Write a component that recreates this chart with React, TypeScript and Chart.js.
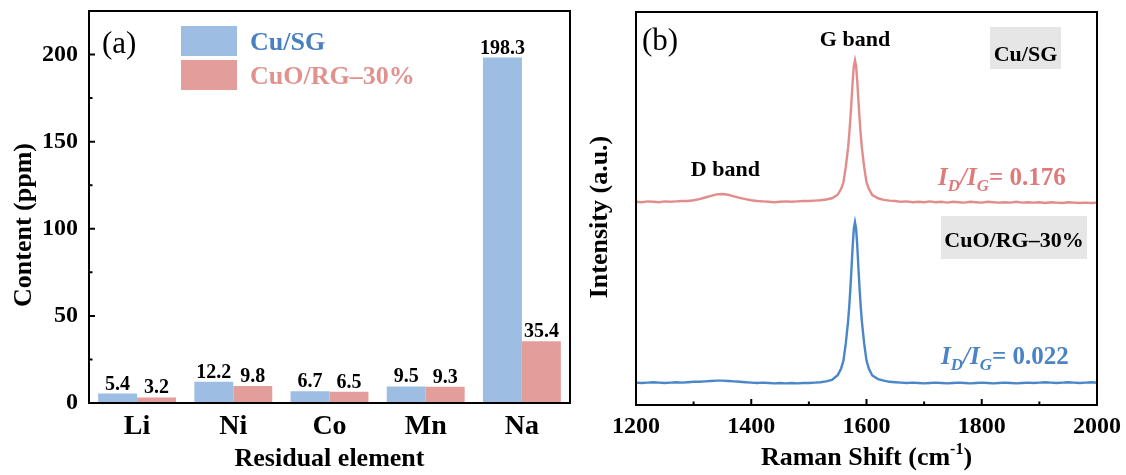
import React, { useEffect, useRef } from "react";
import { Chart, registerables } from "chart.js";
Chart.register(...registerables);

const SERIF = "'Liberation Serif', 'Times New Roman', serif";

// ---------- Panel (a) data ----------
const elements = ["Li", "Ni", "Co", "Mn", "Na"];
const cuSGContent = [5.4, 12.2, 6.7, 9.5, 198.3];
const cuoRGContent = [3.2, 9.8, 6.5, 9.3, 35.4];
const contentTicks = [0, 50, 100, 150, 200];
const contentMinorTicks = [25, 75, 125, 175];

// ---------- Panel (b) data ----------
const ramanShift = [
  1200, 1210, 1220, 1230, 1240, 1250, 1260, 1270, 1280, 1290,
  1300, 1310, 1320, 1330, 1340, 1350, 1360, 1370, 1380, 1390,
  1400, 1410, 1420, 1430, 1440, 1450, 1460, 1470, 1480, 1490,
  1500, 1510, 1520, 1530, 1540,
  1550, 1556, 1560, 1564, 1568, 1570, 1572, 1574, 1576, 1578,
  1580, 1582, 1584, 1586, 1588, 1590, 1592, 1596, 1600, 1604, 1610,
  1620, 1630, 1640, 1650, 1660, 1670, 1680, 1690, 1700, 1710,
  1720, 1730, 1740, 1750, 1760, 1770, 1780, 1790, 1800, 1810,
  1820, 1830, 1840, 1850, 1860, 1870, 1880, 1890, 1900, 1910,
  1920, 1930, 1940, 1950, 1960, 1970, 1980, 1990, 2000,
];
const cuSGIntensity = [
  51.7, 51.6, 51.8, 51.7, 51.6, 51.8, 51.7, 51.8, 51.9, 51.9,
  52.1, 52.4, 52.8, 53.2, 53.6, 53.7, 53.5, 53.1, 52.7, 52.4,
  52.1, 51.9, 51.8, 51.7, 51.6, 51.7, 51.8, 51.7, 51.8, 51.9,
  51.9, 52.0, 52.1, 52.3, 52.6,
  53.5, 55.0, 56.7, 60.5, 65.4, 68.8, 72.8, 77.4, 82.3, 86.2,
  87.7, 86.2, 82.3, 77.4, 72.8, 68.8, 65.4, 60.5, 56.7, 55.0, 53.4,
  52.6, 52.2, 52.0, 51.9, 51.7, 51.8, 51.6, 51.7, 51.6, 51.8,
  51.6, 51.7, 51.5, 51.7, 51.6, 51.5, 51.7, 51.6, 51.5, 51.7,
  51.6, 51.5, 51.6, 51.5, 51.7, 51.5, 51.6, 51.5, 51.6, 51.4,
  51.6, 51.5, 51.4, 51.6, 51.5, 51.4, 51.5, 51.4, 51.5,
];
const cuoRGIntensity = [
  5.7, 5.6, 5.7, 5.8, 5.7, 5.6, 5.7, 5.8, 5.7, 5.8,
  5.9, 5.9, 6.0, 6.1, 6.2, 6.2, 6.1, 6.0, 5.9, 5.8,
  5.7, 5.6, 5.7, 5.6, 5.5, 5.6, 5.5, 5.6, 5.5, 5.6,
  5.6, 5.7, 5.8, 6.0, 6.4,
  7.6, 9.3, 11.3, 15.6, 21.2, 25.0, 29.6, 34.8, 40.4, 44.8,
  46.5, 44.8, 40.4, 34.8, 29.6, 25.0, 21.2, 15.6, 11.3, 9.3, 7.5,
  6.6, 6.2, 5.9, 5.8, 5.7, 5.6, 5.7, 5.6, 5.5, 5.6,
  5.7, 5.6, 5.5, 5.6, 5.7, 5.6, 5.5, 5.6, 5.7, 5.6,
  5.5, 5.6, 5.7, 5.6, 5.5, 5.6, 5.7, 5.6, 5.7, 5.8,
  5.7, 5.6, 5.7, 5.8, 5.7, 5.6, 5.7, 5.8, 5.7,
];
const ramanTicks = [1200, 1400, 1600, 1800, 2000];
const ramanMinorTicks = [1300, 1500, 1700, 1900];

// ---------- Styles ----------
const BAR_BLUE = "#9DBDE3";
const BAR_PINK = "#E39E9C";
const TEXT_BLUE = "#4A80C2";
const TEXT_PINK = "#E0928F";
const LINE_RED = "#E28C8C";
const LINE_BLUE = "#4A86C8";
const RATIO_RED = "#E07A7A";
const RATIO_BLUE = "#4A83C5";

const numFont = { family: SERIF, size: 24, weight: "bold" as const };
const catFont = { family: SERIF, size: 28, weight: "bold" as const };
const titleFont = { family: SERIF, size: 26, weight: "bold" as const };

const zeroPad = (s: any) => {
  s.paddingTop = 0;
  s.paddingBottom = 0;
  s.paddingLeft = 0;
  s.paddingRight = 0;
};

function drawFrameAndTicks(
  ctx: CanvasRenderingContext2D,
  chart: any,
  axis: "x" | "y",
  major: number[],
  minor: number[]
) {
  const ca = chart.chartArea;
  ctx.strokeStyle = "#000";
  ctx.lineWidth = 2;
  ctx.strokeRect(ca.left, ca.top, ca.right - ca.left, ca.bottom - ca.top);
  ctx.beginPath();
  const sc = chart.scales[axis];
  const draw = (v: number, len: number) => {
    const p = sc.getPixelForValue(v);
    if (axis === "y") {
      ctx.moveTo(ca.left, p);
      ctx.lineTo(ca.left + len, p);
    } else {
      ctx.moveTo(p, ca.bottom);
      ctx.lineTo(p, ca.bottom - len);
    }
  };
  major.forEach((v) => draw(v, 6));
  minor.forEach((v) => draw(v, 3.5));
  ctx.stroke();
}

function drawVerticalTitle(
  ctx: CanvasRenderingContext2D,
  text: string,
  x: number,
  y: number
) {
  ctx.save();
  ctx.translate(x, y);
  ctx.rotate(-Math.PI / 2);
  ctx.font = `bold 26px ${SERIF}`;
  ctx.fillStyle = "#000";
  ctx.textAlign = "center";
  ctx.textBaseline = "middle";
  ctx.fillText(text, 0, 0);
  ctx.restore();
}

const panelAPlugin = {
  id: "panelA",
  afterDraw(chart: any) {
    const ctx: CanvasRenderingContext2D = chart.ctx;
    ctx.save();
    drawFrameAndTicks(ctx, chart, "y", contentTicks, contentMinorTicks);

    // value labels
    ctx.font = `bold 20px ${SERIF}`;
    ctx.fillStyle = "#000";
    ctx.textAlign = "center";
    ctx.textBaseline = "alphabetic";
    [cuSGContent, cuoRGContent].forEach((arr, di) => {
      const meta = chart.getDatasetMeta(di);
      meta.data.forEach((bar: any, i: number) => {
        ctx.fillText(arr[i].toFixed(1), bar.x, bar.y - 4);
      });
    });

    // legend
    const items = [
      { text: "Cu/SG", box: BAR_BLUE, color: TEXT_BLUE, top: 26 },
      { text: "CuO/RG\u201330%", box: BAR_PINK, color: TEXT_PINK, top: 60 },
    ];
    ctx.font = `bold 26px ${SERIF}`;
    ctx.textAlign = "left";
    ctx.textBaseline = "alphabetic";
    items.forEach((it) => {
      ctx.fillStyle = it.box;
      ctx.fillRect(181, it.top, 56, 30);
      ctx.fillStyle = it.color;
      ctx.fillText(it.text, 250, it.top + 24);
    });

    // panel tag
    ctx.fillStyle = "#000";
    ctx.font = `31px ${SERIF}`;
    ctx.fillText("(a)", 102, 53);
    ctx.restore();

    drawVerticalTitle(ctx, "Content (ppm)", 24, 225);
  },
};

function drawRatio(
  ctx: CanvasRenderingContext2D,
  x: number,
  y: number,
  value: string,
  color: string
) {
  ctx.fillStyle = color;
  ctx.textAlign = "left";
  ctx.textBaseline = "alphabetic";
  const big = `italic bold 25px ${SERIF}`;
  const sub = `italic bold 17px ${SERIF}`;
  const up = `bold 25px ${SERIF}`;
  const parts: [string, string, number][] = [
    ["I", big, 0],
    ["D", sub, 6],
    ["/", big, 0],
    ["I", big, 0],
    ["G", sub, 6],
    ["= " + value, up, 0],
  ];
  let cx = x;
  for (const [t, f, dy] of parts) {
    ctx.font = f;
    ctx.fillText(t, cx, y + dy);
    cx += ctx.measureText(t).width;
  }
}

const OFF_B = 575;

const panelBPlugin = {
  id: "panelB",
  afterDraw(chart: any) {
    const ctx: CanvasRenderingContext2D = chart.ctx;
    const ca = chart.chartArea;
    const xs = chart.scales.x;
    ctx.save();
    drawFrameAndTicks(ctx, chart, "x", ramanTicks, ramanMinorTicks);

    ctx.fillStyle = "#000";
    ctx.textAlign = "left";
    ctx.textBaseline = "alphabetic";
    ctx.font = `31px ${SERIF}`;
    ctx.fillText("(b)", 642 - OFF_B, 50);

    ctx.textAlign = "center";
    ctx.font = `bold 22px ${SERIF}`;
    ctx.fillText("G band", xs.getPixelForValue(1580), 46);
    ctx.fillText("D band", xs.getPixelForValue(1355), 176);

    // grey label boxes
    ctx.fillStyle = "#E6E6E6";
    ctx.fillRect(990 - OFF_B, 27, 71, 42);
    ctx.fillRect(941 - OFF_B, 216, 146, 43);
    ctx.fillStyle = "#000";
    ctx.font = `bold 22px ${SERIF}`;
    ctx.fillText("Cu/SG", 1025.5 - OFF_B, 61);
    ctx.fillText("CuO/RG\u201330%", 1014 - OFF_B, 247);

    drawRatio(ctx, 938 - OFF_B, 185, "0.176", RATIO_RED);
    drawRatio(ctx, 941 - OFF_B, 364, "0.022", RATIO_BLUE);

    // x axis title with superscript
    ctx.fillStyle = "#000";
    ctx.textAlign = "left";
    const cx = (ca.left + ca.right) / 2;
    const p1 = "Raman Shift (cm";
    const p2 = "-1";
    const p3 = ")";
    ctx.font = `bold 26px ${SERIF}`;
    const w1 = ctx.measureText(p1).width;
    const w3 = ctx.measureText(p3).width;
    ctx.font = `bold 16px ${SERIF}`;
    const w2 = ctx.measureText(p2).width;
    let x = cx - (w1 + w2 + w3) / 2;
    const base = 465;
    ctx.font = `bold 26px ${SERIF}`;
    ctx.fillText(p1, x, base);
    x += w1;
    ctx.font = `bold 16px ${SERIF}`;
    ctx.fillText(p2, x, base - 11);
    x += w2;
    ctx.font = `bold 26px ${SERIF}`;
    ctx.fillText(p3, x, base);
    ctx.restore();

    drawVerticalTitle(ctx, "Intensity (a.u.)", 600 - OFF_B, 217);
  },
};

export default function App() {
  const refA = useRef<HTMLCanvasElement>(null);
  const refB = useRef<HTMLCanvasElement>(null);

  useEffect(() => {
    const chartA = new Chart(refA.current!, {
      type: "bar",
      data: {
        labels: elements,
        datasets: [
          {
            label: "Cu/SG",
            data: cuSGContent,
            backgroundColor: BAR_BLUE,
            barPercentage: 1,
            categoryPercentage: 0.81,
          },
          {
            label: "CuO/RG\u201330%",
            data: cuoRGContent,
            backgroundColor: BAR_PINK,
            barPercentage: 1,
            categoryPercentage: 0.81,
          },
        ],
      },
      options: {
        animation: false,
        responsive: false,
        devicePixelRatio: 1,
        layout: { padding: { left: 0, top: 11, right: 5, bottom: 0 } },
        plugins: { legend: { display: false }, tooltip: { enabled: false } },
        scales: {
          x: {
            grid: { display: false, drawTicks: false },
            border: { display: false },
            ticks: { font: catFont, color: "#000", padding: 7 },
            title: {
              display: true,
              text: "Residual element",
              font: titleFont,
              color: "#000",
              padding: { top: 0, bottom: 0 },
            },
            afterFit: (s: any) => {
              s.height = 72;
              zeroPad(s);
            },
          },
          y: {
            min: 0,
            max: 225,
            grid: { display: false, drawTicks: false },
            border: { display: false },
            ticks: { font: numFont, color: "#000", padding: 11, includeBounds: false },
            afterBuildTicks: (s: any) => {
              s.ticks = contentTicks.map((v) => ({ value: v }));
            },
            afterFit: (s: any) => {
              s.width = 89;
              zeroPad(s);
            },
          },
        },
      },
      plugins: [panelAPlugin],
    } as any);

    const chartB = new Chart(refB.current!, {
      type: "line",
      data: {
        datasets: [
          {
            label: "Cu/SG",
            data: ramanShift.map((x, i) => ({ x, y: cuSGIntensity[i] })),
            borderColor: LINE_RED,
            borderWidth: 2.4,
            pointRadius: 0,
            tension: 0,
          },
          {
            label: "CuO/RG\u201330%",
            data: ramanShift.map((x, i) => ({ x, y: cuoRGIntensity[i] })),
            borderColor: LINE_BLUE,
            borderWidth: 2.4,
            pointRadius: 0,
            tension: 0,
          },
        ],
      },
      options: {
        animation: false,
        responsive: false,
        devicePixelRatio: 1,
        layout: { padding: { left: 0, top: 12, right: 29, bottom: 0 } },
        plugins: { legend: { display: false }, tooltip: { enabled: false } },
        scales: {
          x: {
            type: "linear",
            min: 1200,
            max: 2000,
            grid: { display: false, drawTicks: false },
            border: { display: false },
            ticks: {
              font: numFont,
              color: "#000",
              padding: 7,
              callback: (v: any) => String(v),
            },
            afterBuildTicks: (s: any) => {
              s.ticks = ramanTicks.map((v) => ({ value: v }));
            },
            afterFit: (s: any) => {
              s.height = 70;
              zeroPad(s);
            },
          },
          y: {
            min: 0,
            max: 100,
            grid: { display: false, drawTicks: false },
            border: { display: false },
            ticks: { display: false },
            afterFit: (s: any) => {
              s.width = 61;
              zeroPad(s);
            },
          },
        },
      },
      plugins: [panelBPlugin],
    } as any);

    return () => {
      chartA.destroy();
      chartB.destroy();
    };
  }, []);

  return (
    <div
      style={{
        position: "absolute",
        left: 0,
        top: 0,
        width: 1126,
        height: 475,
        background: "#fff",
      }}
    >
      <canvas
        ref={refA}
        width={575}
        height={475}
        style={{ position: "absolute", left: 0, top: 0 }}
      />
      <canvas
        ref={refB}
        width={551}
        height={475}
        style={{ position: "absolute", left: 575, top: 0 }}
      />
    </div>
  );
}
